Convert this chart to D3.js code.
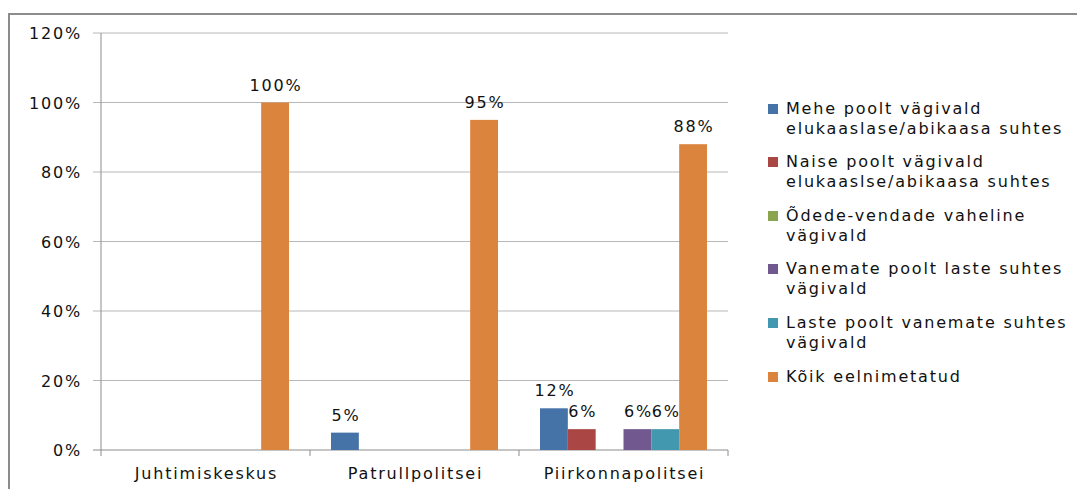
<!DOCTYPE html>
<html>
<head>
<meta charset="utf-8">
<script src="https://cdn.jsdelivr.net/npm/d3@7"></script>
<style>
  body { margin: 0; background: #fff; }
  text { font-family: "DejaVu Sans", Verdana, sans-serif; fill: #111; letter-spacing: 1.8px; font-size: 16px; }
</style>
</head>
<body>
<div id="chart"></div>
<script>

var categories = ['Juhtimiskeskus', 'Patrullpolitsei', 'Piirkonnapolitsei']

var series_names = [
  ['Mehe poolt vägivald', 'elukaaslase/abikaasa suhtes'],
  ['Naise poolt vägivald', 'elukaaslse/abikaasa suhtes'],
  ['Õdede-vendade vaheline', 'vägivald'],
  ['Vanemate poolt laste suhtes', 'vägivald'],
  ['Laste poolt vanemate suhtes', 'vägivald'],
  ['Kõik eelnimetatud']
]

var series_colors = ['#4572A7', '#AA4643', '#89A54E', '#71588F', '#4198AF', '#DB843D']

// values per series, one per category (null = no bar / no label)
var mehe    = [null, 5, 12]
var naise   = [null, null, 6]
var oded    = [null, null, null]
var vanemad = [null, null, 6]
var lapsed  = [null, null, 6]
var koik    = [100, 95, 88]

var values = [mehe, naise, oded, vanemad, lapsed, koik]

var y_ticks = [0, 20, 40, 60, 80, 100, 120]

var width = 1077, height = 489

var svg = d3.select('#chart').append('svg')
  .attr('width', width)
  .attr('height', height)

// outer frame
svg.append('rect')
  .attr('x', 9).attr('y', 14)
  .attr('width', 1080).attr('height', 490)
  .attr('fill', 'none')
  .attr('stroke', '#8c8c8c')
  .attr('stroke-width', 2)

var plot = { left: 101, right: 728, top: 33, bottom: 450 }

var x = d3.scaleBand()
  .domain(categories)
  .range([plot.left, plot.right])

var x_inner = d3.scaleBand()
  .domain(d3.range(series_names.length))
  .range([21, x.bandwidth() - 21])

var y = d3.scaleLinear()
  .domain([0, 120])
  .range([plot.bottom, plot.top])

// gridlines + y ticks
var grid = svg.append('g')
grid.selectAll('line')
  .data(y_ticks)
  .enter().append('line')
  .attr('x1', plot.left - 8)
  .attr('x2', plot.right)
  .attr('y1', function(d) { return y(d) })
  .attr('y2', function(d) { return y(d) })
  .attr('stroke', function(d) { return d === 0 ? '#8c8c8c' : '#b8b8b8' })
  .attr('stroke-width', 1)

grid.selectAll('text')
  .data(y_ticks)
  .enter().append('text')
  .attr('x', 82)
  .attr('y', function(d) { return y(d) + 6 })
  .attr('text-anchor', 'end')
  .text(function(d) { return d + '%' })

// y axis line
svg.append('line')
  .attr('x1', plot.left).attr('x2', plot.left)
  .attr('y1', plot.top).attr('y2', plot.bottom)
  .attr('stroke', '#8c8c8c')

// category ticks
var cat_edges = categories.map(function(c) { return x(c) }).concat([plot.right])
svg.append('g').selectAll('line')
  .data(cat_edges)
  .enter().append('line')
  .attr('x1', function(d) { return d })
  .attr('x2', function(d) { return d })
  .attr('y1', plot.bottom)
  .attr('y2', plot.bottom + 6)
  .attr('stroke', '#8c8c8c')

svg.append('g').selectAll('text')
  .data(categories)
  .enter().append('text')
  .attr('x', function(d) { return x(d) + x.bandwidth() / 2 + 1 })
  .attr('y', 479)
  .attr('text-anchor', 'middle')
  .text(function(d) { return d })

// bars
values.forEach(function(vals, s) {
  var g = svg.append('g')
  categories.forEach(function(cat, c) {
    var v = vals[c]
    if (v === null) return
    var bx = x(cat) + x_inner(s)
    g.append('rect')
      .attr('x', bx)
      .attr('y', y(v))
      .attr('width', x_inner.bandwidth())
      .attr('height', y(0) - y(v))
      .attr('fill', series_colors[s])
    g.append('text')
      .attr('x', bx + x_inner.bandwidth() / 2 + 1)
      .attr('y', y(v) - 12)
      .attr('text-anchor', 'middle')
      .text(v + '%')
  })
})

// legend
var legend = svg.append('g')
var line_h = 20
var item_y = [114, 167, 221, 274, 328, 382]
series_names.forEach(function(lines, i) {
  legend.append('rect')
    .attr('x', 768)
    .attr('y', item_y[i] - 10)
    .attr('width', 10)
    .attr('height', 10)
    .attr('fill', series_colors[i])
  lines.forEach(function(l, j) {
    legend.append('text')
      .attr('x', 786)
      .attr('y', item_y[i] + j * line_h)
      .text(l)
  })
})

</script>
</body>
</html>
